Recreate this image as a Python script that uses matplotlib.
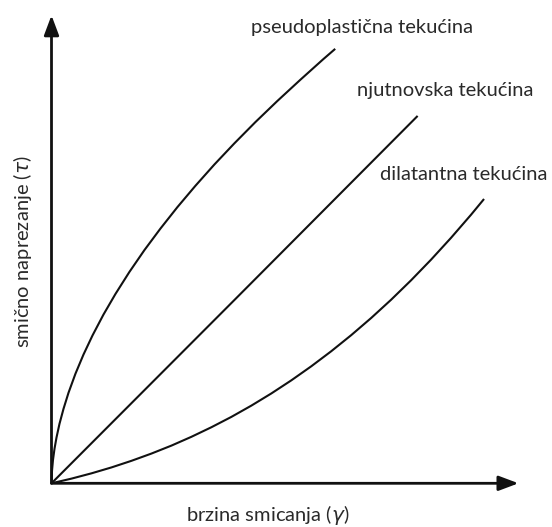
import matplotlib
matplotlib.use("Agg")
import matplotlib.pyplot as plt

plt.rcParams['font.family'] = ['Lato', 'DejaVu Sans']

# Data (arbitrary units, axis length = 10)
pseudo_x = [0, 0.011, 0.032, 0.064, 0.107, 0.171, 0.257, 0.364, 0.513, 0.684, 0.877,
            1.112, 1.369, 1.668, 1.989, 2.332, 2.695, 3.080, 3.487, 3.914, 4.364,
            4.834, 5.326, 5.818, 6.075]
pseudo_y = [0, 0.272, 0.501, 0.736, 0.978, 1.271, 1.591, 1.934, 2.342, 2.749, 3.157,
            3.604, 4.045, 4.516, 4.982, 5.442, 5.900, 6.355, 6.811, 7.262, 7.716,
            8.167, 8.620, 9.061, 9.283]

newton_x = [0, 3.92, 7.84]
newton_y = [0, 3.92, 7.85]

dilat_x = [0, 0.428, 0.856, 1.283, 1.711, 2.139, 2.567, 2.995, 3.422, 3.850, 4.278,
           4.706, 5.134, 5.561, 5.989, 6.417, 6.845, 7.273, 7.701, 8.128, 8.556,
           8.984, 9.262]
dilat_y = [0, 0.100, 0.213, 0.339, 0.480, 0.635, 0.805, 0.993, 1.197, 1.418, 1.659,
           1.919, 2.199, 2.499, 2.821, 3.165, 3.532, 3.923, 4.339, 4.779, 5.246,
           5.739, 6.075]

labels = ["pseudoplastična tekućina", "njutnovska tekućina", "dilatantna tekućina"]
xlabel = r"brzina smicanja ($\gamma$)"
ylabel = r"smično naprezanje ($\tau$)"

W, H = 552, 527
fig = plt.figure(figsize=(W / 100, H / 100), dpi=100)
ax = fig.add_axes([51.5 / W, 43.7 / H, 467 / W, 468 / H])
ax.set_xlim(0, 10)
ax.set_ylim(0, 10)
ax.axis('off')

lc = '#111111'
tc = '#2a2a2a'
for xs, ys in [(pseudo_x, pseudo_y), (newton_x, newton_y), (dilat_x, dilat_y)]:
    ax.plot(xs, ys, color=lc, lw=1.5, solid_capstyle='butt', solid_joinstyle='round',
            clip_on=False)

arrow = dict(arrowstyle='-|>,head_length=1.2,head_width=0.45', mutation_scale=10,
             lw=2.0, color=lc, shrinkA=0, shrinkB=0)
ax.annotate('', xy=(10, 0), xytext=(0, 0), arrowprops=arrow, annotation_clip=False)
ax.annotate('', xy=(0, 10), xytext=(0, 0), arrowprops=arrow, annotation_clip=False)

fs = 14.5
ax.text(4.27, 9.63, labels[0], fontsize=fs, color=tc, ha='left', va='baseline')
ax.text(6.55, 8.27, labels[1], fontsize=fs, color=tc, ha='left', va='baseline')
ax.text(7.04, 6.49, labels[2], fontsize=fs, color=tc, ha='left', va='baseline')

ax.text(4.63, -0.80, xlabel, fontsize=fs, color=tc, ha='center', va='baseline')
ax.text(-0.374, 4.94, ylabel, fontsize=fs, color=tc, ha='right', va='center', rotation=90)

fig.savefig('out.png', dpi=100)
